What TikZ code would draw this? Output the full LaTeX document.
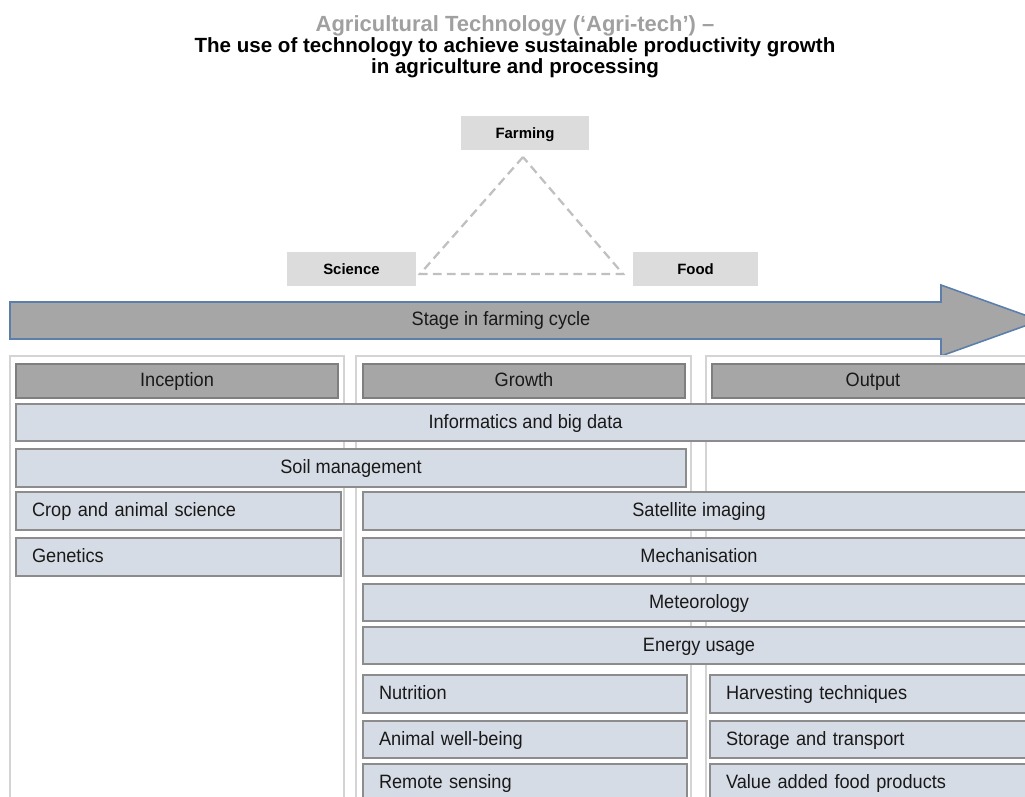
\documentclass[tikz,border=0pt]{standalone}
\usepackage{fontspec}
\setmainfont{Liberation Sans}
\newfontfamily\cellfont[FakeStretch=0.94]{Liberation Sans}
\usepackage{xcolor}
\usetikzlibrary{positioning,calc}

\definecolor{hdrgray}{HTML}{A6A6A6}
\definecolor{hdrline}{HTML}{7F7F7F}
\definecolor{cellfill}{HTML}{D6DCE5}
\definecolor{cellline}{HTML}{8C8C8C}
\definecolor{arrowline}{HTML}{5B7FAA}
\definecolor{pillfill}{HTML}{DCDCDC}
\definecolor{titlegray}{HTML}{A0A0A0}
\definecolor{framegray}{HTML}{D4D4D4}
\definecolor{dashgray}{HTML}{C0C0C0}

\begin{document}
\begin{tikzpicture}[
    x=0.02cm, y=-0.02cm,
    cell/.style={rectangle, draw=cellline, line width=0.9pt, fill=cellfill, minimum height=0.75cm, inner sep=0pt, text height=1.65ex, text depth=0.45ex, font=\cellfont\fontsize{11}{13}\selectfont, text=black!90},
    cellL/.style={cell, inner xsep=0.32cm, align=left},
    stage/.style={rectangle, draw=hdrline, line width=0.9pt, fill=hdrgray, minimum width=6.45cm, minimum height=0.68cm, inner sep=0pt, text height=1.65ex, text depth=0.45ex, font=\cellfont\fontsize{11}{13}\selectfont, text=black!90},
    pill/.style={rectangle, fill=pillfill, minimum height=0.69cm, inner sep=0pt, text height=1.6ex, text depth=0.4ex, font=\bfseries\fontsize{8.5}{10}\selectfont},
    colframe/.style={draw=framegray, line width=1.6pt},
    tri/.style={draw=dashgray, line width=1.3pt, dash pattern=on 5pt off 3pt},
    titleline/.style={anchor=base, font=\bfseries\fontsize{11.7}{14}\selectfont},
]
\useasboundingbox (0,0) rectangle (1025,797);

% Title
\node[titleline, text=titlegray, font=\bfseries\fontsize{12.5}{15}\selectfont] (title1) at (515,32) {Agricultural Technology (‘Agri-tech’) –};
\node[titleline] (title2) at (515,53) {The use of technology to achieve sustainable productivity growth};
\node[titleline] (title3) at (515,74) {in agriculture and processing};

% Farming / Science / Food triangle
\node[pill, minimum width=2.56cm] (farm) at (525,133) {Farming};
\node[pill, minimum width=2.58cm] (sci) at (351.5,269) {Science};
\node[pill, minimum width=2.5cm] (food) at (695.5,269) {Food};
\coordinate (tA) at (523,157);
\coordinate (tL) at (420,274);
\coordinate (tR) at (623,274);
\draw[tri] (tA) -- (tL) -- (tR) -- cycle;

% Big arrow
\draw[draw=arrowline, line width=0.9pt, fill=hdrgray]
    (10,302) -- (941,302) -- (941,285) -- (1040,320.5) -- (941,356) -- (941,339) -- (10,339) -- cycle;
\node[font=\cellfont\fontsize{11}{13}\selectfont, text=black!90] (cycle) at (501,321) {Stage in farming cycle};

% Column frames
\draw[colframe] (10,356) rectangle (344,815);
\draw[colframe] (356,356) rectangle (691,815);
\draw[colframe] (706,356) rectangle (1045,815);

% Stage headers
\node[stage] (inception) at (177,381) {Inception};
\node[stage] (growth) at (524,381) {Growth};
\node[stage] (output) at (873,381) {Output};

% Bars across columns
\node[cell, minimum width=20.38cm] (informatics) at (525.5,422.5) {Informatics and big data};
\node[cell, minimum width=13.4cm] (soil) at (351,468) {Soil management};

% Inception column
\node[cellL, text width=5.86cm] (crop) at (178.5,511) {Crop and animal science};
\node[cellL, text width=5.86cm] (genetics) at (178.5,557) {Genetics};

% Growth + output bars
\node[cell, minimum width=13.44cm] (satellite) at (699,511) {Satellite imaging};
\node[cell, minimum width=13.44cm] (mech) at (699,557) {Mechanisation};
\node[cell, minimum width=13.44cm] (meteo) at (699,602.5) {Meteorology};
\node[cell, minimum width=13.44cm] (energy) at (699,645.5) {Energy usage};

% Growth column
\node[cellL, text width=5.84cm] (nutrition) at (525,694) {Nutrition};
\node[cellL, text width=5.84cm] (animal) at (525,739.5) {Animal well-being};
\node[cellL, text width=5.84cm] (remote) at (525,783) {Remote sensing};

% Output column
\node[cellL, text width=5.86cm] (harvest) at (872.5,694) {Harvesting techniques};
\node[cellL, text width=5.86cm] (storage) at (872.5,739.5) {Storage and transport};
\node[cellL, text width=5.86cm] (valueadd) at (872.5,783) {Value added food products};

\end{tikzpicture}
\end{document}
